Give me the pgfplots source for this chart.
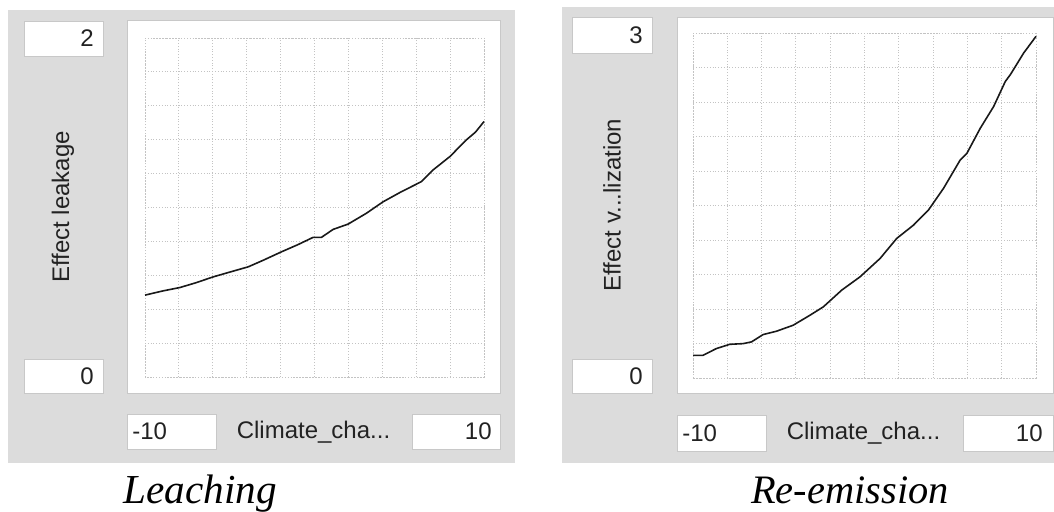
\documentclass[border=0pt]{standalone}
\usepackage{pgfplots}
\pgfplotsset{compat=1.18}
\usepackage{fontspec}
\setmainfont{Liberation Serif}
\newfontfamily\ui{Liberation Sans}
\definecolor{panelbg}{RGB}{220,220,220}
\definecolor{boxedge}{RGB}{200,200,200}
\definecolor{gridc}{RGB}{195,195,195}
\definecolor{txt}{RGB}{34,34,34}
\pgfplotsset{lookup/.style={
  scale only axis,
  xmin=-10,xmax=10,
  xtick={-10,-8,...,10},
  ticklabel style={draw=none},
  xticklabels={},yticklabels={},
  major tick length=0pt,
  grid=major,
  grid style={densely dotted, gridc, line width=0.5pt},
  axis line style={densely dotted, gridc, line width=0.5pt},
  clip=false,
}}
\begin{document}
\begin{tikzpicture}
\useasboundingbox (0,0) rectangle (527pt,-255.5pt);
\begin{scope}[x=0.5pt,y=-0.5pt]
% panels
\fill[panelbg] (8,10) rectangle (515,463);
\fill[panelbg] (562,7) rectangle (1054,463);
\filldraw[fill=white,draw=boxedge,line width=0.4pt] (127,20) rectangle (500,393);
\filldraw[fill=white,draw=boxedge,line width=0.4pt] (677,17) rectangle (1053.5,393);
\end{scope}

\begin{axis}[lookup, at={(72.5pt,-188.5pt)}, anchor=south west,
  width=169.5pt, height=169.5pt, ymin=0, ymax=2, ytick={0,0.2,...,2}]
\addplot[black!90, line width=0.8pt] coordinates {
(-10,0.483) (-9.5,0.495) (-8.94,0.508) (-7.94,0.528) (-7,0.556) (-5.97,0.591)
(-5,0.619) (-3.91,0.650) (-3,0.690) (-1.94,0.739) (-1,0.780) (-0.08,0.824)
(0.41,0.824) (1.1,0.871) (1.98,0.902) (3.06,0.966) (4.05,1.034) (5.03,1.088)
(6.31,1.153) (7.0,1.222) (7.98,1.300) (8.96,1.399) (9.5,1.445) (10,1.507)};
\end{axis}

\begin{axis}[lookup, at={(346.5pt,-189pt)}, anchor=south west,
  width=171.5pt, height=172.5pt, ymin=0, ymax=3, ytick={0,0.3,...,3}]
\addplot[black!90, line width=0.8pt] coordinates {
(-10,0.197) (-9.42,0.197) (-8.64,0.256) (-7.86,0.293) (-7.08,0.299) (-6.59,0.314)
(-5.91,0.378) (-5.13,0.407) (-4.16,0.459) (-3.18,0.546) (-2.40,0.619) (-1.33,0.764)
(-0.26,0.880) (0.91,1.040) (1.88,1.214) (2.86,1.330) (3.73,1.461) (4.61,1.650)
(5.58,1.896) (5.97,1.954) (6.75,2.172) (7.53,2.361) (8.21,2.579) (8.50,2.637)
(9.28,2.826) (10,2.971)};
\end{axis}

\begin{scope}[x=0.5pt,y=-0.5pt, every node/.style={font=\ui\fontsize{12}{14}\selectfont, text=txt, inner sep=0pt}]
% left boxes
\filldraw[fill=white,draw=boxedge,line width=0.4pt] (24,21) rectangle (103,56);
\node[anchor=east] at (94,38.5) {2};
\filldraw[fill=white,draw=boxedge,line width=0.4pt] (24,359) rectangle (103,393);
\node[anchor=east] at (94,376) {0};
\filldraw[fill=white,draw=boxedge,line width=0.4pt] (127,414) rectangle (216,449);
\node[anchor=west] at (132,431.5) {-10};
\filldraw[fill=white,draw=boxedge,line width=0.4pt] (412,414) rectangle (500,449);
\node[anchor=east] at (492,431.5) {10};
\node at (313.5,432) {Climate\_cha...};
\node[rotate=90] at (63,207) {Effect leakage};
% right boxes
\filldraw[fill=white,draw=boxedge,line width=0.4pt] (572,17) rectangle (652,53);
\node[anchor=east] at (643,35) {3};
\filldraw[fill=white,draw=boxedge,line width=0.4pt] (572,359) rectangle (652,393);
\node[anchor=east] at (643,376) {0};
\filldraw[fill=white,draw=boxedge,line width=0.4pt] (677,415) rectangle (766,451);
\node[anchor=west] at (682,433) {-10};
\filldraw[fill=white,draw=boxedge,line width=0.4pt] (963,415) rectangle (1053.5,451);
\node[anchor=east] at (1043,433) {10};
\node at (863.5,433) {Climate\_cha...};
\node[rotate=90] at (612,205) {Effect v...lization};
% captions
\node[font=\itshape\fontsize{20.6}{24}\selectfont, text=black, anchor=base] at (200,503) {Leaching};
\node[font=\itshape\fontsize{20.2}{24}\selectfont, text=black, anchor=base] at (850,503) {Re-emission};
\end{scope}
\end{tikzpicture}
\end{document}
